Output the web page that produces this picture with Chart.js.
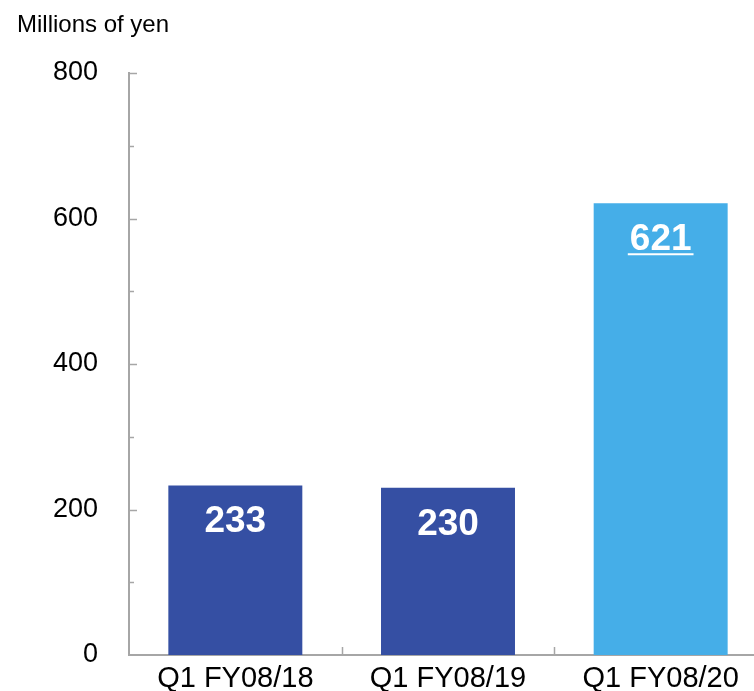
<!DOCTYPE html>
<html>
<head>
<meta charset="utf-8">
<title>Net sales, Q1</title>
<script src="https://cdn.jsdelivr.net/npm/chart.js@4/dist/chart.umd.min.js"></script>
<style>
  html, body { margin: 0; padding: 0; background: #fff; overflow: hidden; }
  #wrap { width: 767px; height: 691px; }
</style>
</head>
<body>
<div id="wrap"><canvas id="salesChart" width="767" height="691"></canvas></div>
<script>
// --- Data ---
const categories = ['Q1 FY08/18', 'Q1 FY08/19', 'Q1 FY08/20'];
const values = [233, 230, 621];
const yTickValues = [0, 200, 400, 600, 800];
const yMinorValues = [100, 300, 500, 700];
const unitLabel = 'Millions of yen';

const FONT = '"Liberation Sans", Arial, sans-serif';
const AXIS_COLOR = '#a6a6a6';
const DARK_BLUE = '#354fa3';
const LIGHT_BLUE = '#45aee8';
const lastIndex = values.length - 1;

// unit caption above the value axis
const unitCaption = {
    id: 'unitCaption',
    afterDraw(chart) {
        const ctx = chart.ctx;
        ctx.save();
        ctx.font = '24px ' + FONT;
        ctx.fillStyle = '#000';
        ctx.textAlign = 'left';
        ctx.textBaseline = 'alphabetic';
        ctx.fillText(unitLabel, 17, 32);
        ctx.restore();
    }
};

// short tick marks drawn on the inner side of both axes
const innerTicks = {
    id: 'innerTicks',
    afterDraw(chart) {
        const ctx = chart.ctx;
        const y = chart.scales.y;
        const x = chart.scales.x;
        const left = chart.chartArea.left;
        const bottom = chart.chartArea.bottom;
        ctx.save();
        ctx.strokeStyle = AXIS_COLOR;
        ctx.lineWidth = 1.5;
        ctx.beginPath();
        yTickValues.forEach(v => {
            if (v === 0) return;
            const py = Math.round(y.getPixelForValue(v)) + 0.5;
            ctx.moveTo(left, py);
            ctx.lineTo(left + 8, py);
        });
        yMinorValues.forEach(v => {
            const py = Math.round(y.getPixelForValue(v)) + 0.5;
            ctx.moveTo(left, py);
            ctx.lineTo(left + 5, py);
        });
        for (let i = 1; i < categories.length; i++) {
            const px = Math.round((x.getPixelForValue(i - 1) + x.getPixelForValue(i)) / 2) + 0.5;
            ctx.moveTo(px, bottom);
            ctx.lineTo(px, bottom - 8);
        }
        ctx.stroke();
        ctx.restore();
    }
};

// value labels inside the top of each bar, latest one underlined
const barValues = {
    id: 'barValues',
    afterDatasetsDraw(chart) {
        const ctx = chart.ctx;
        const meta = chart.getDatasetMeta(0);
        ctx.save();
        ctx.font = 'bold 37px ' + FONT;
        ctx.fillStyle = '#fff';
        ctx.strokeStyle = '#fff';
        ctx.textAlign = 'center';
        ctx.textBaseline = 'alphabetic';
        meta.data.forEach((bar, i) => {
            const text = String(values[i]);
            const base = bar.y + 47;
            ctx.fillText(text, bar.x, base);
            if (i === lastIndex) {
                const w = ctx.measureText(text).width + 4;
                ctx.lineWidth = 2;
                ctx.beginPath();
                ctx.moveTo(bar.x - w / 2, base + 4);
                ctx.lineTo(bar.x + w / 2, base + 4);
                ctx.stroke();
            }
        });
        ctx.restore();
    }
};

new Chart(document.getElementById('salesChart'), {
    type: 'bar',
    data: {
        labels: categories,
        datasets: [{
            data: values,
            backgroundColor: ctx => ctx.dataIndex === lastIndex ? LIGHT_BLUE : DARK_BLUE,
            borderWidth: 0,
            categoryPercentage: 1,
            barPercentage: 0.63
        }]
    },
    options: {
        responsive: false,
        animation: false,
        layout: { padding: { top: 73, left: 0, right: 0, bottom: 0 } },
        plugins: {
            legend: { display: false },
            tooltip: { enabled: false }
        },
        scales: {
            x: {
                grid: { display: false, drawTicks: false },
                border: { display: true, color: AXIS_COLOR, width: 2 },
                ticks: {
                    color: '#000',
                    padding: 7,
                    maxRotation: 0,
                    font: { family: FONT, size: 29 }
                },
                afterFit(scale) {
                    scale.height = 36;
                    scale.paddingLeft = 0;
                    scale.paddingRight = 0;
                }
            },
            y: {
                min: 0,
                max: 800,
                grid: { display: false, drawTicks: false },
                border: { display: true, color: AXIS_COLOR, width: 2 },
                ticks: {
                    color: '#000',
                    padding: 31,
                    font: { family: FONT, size: 27 }
                },
                afterBuildTicks(scale) {
                    scale.ticks = yTickValues.map(v => ({ value: v }));
                },
                afterFit(scale) {
                    // tick padding would otherwise be added above/below the axis
                    scale.width = 129;
                    scale.paddingTop = 0;
                    scale.paddingBottom = 0;
                }
            }
        }
    },
    plugins: [unitCaption, innerTicks, barValues]
});
</script>
</body>
</html>
